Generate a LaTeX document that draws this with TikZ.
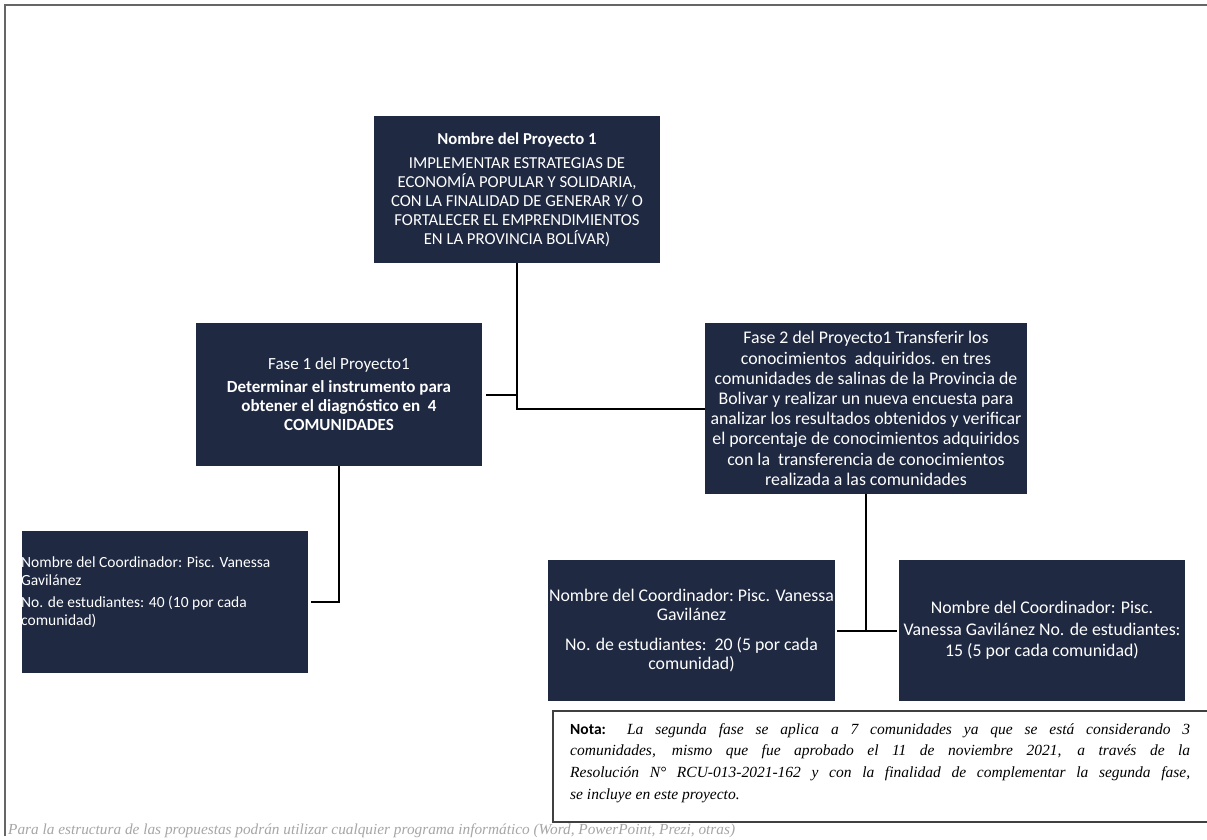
\documentclass[tikz,border=0pt]{standalone}
\usepackage{fontspec}
\setmainfont{Carlito}
\newfontfamily\notafont{Liberation Serif}
\definecolor{navy}{RGB}{31,41,66}
\begin{document}
\begin{tikzpicture}[x=1pt,y=-1pt,
  box/.style={fill=navy,draw=none,text=white,align=center,inner sep=0pt,
    font=\fontsize{16.7}{19}\selectfont},
  boxtxt/.style={text=white,inner sep=0pt,font=\fontsize{15.5}{17.5}\selectfont},
  conn/.style={draw=black,line width=2pt},
  frame/.style={draw=black!60,line width=1.5pt}]
\useasboundingbox (0,0) rectangle (1207,840);
\fill[white] (0,0) rectangle (1207,840);
% page frame
\draw[frame] (5,836) -- (5,5) -- (1207,5);

% project box
\node[box,minimum width=286pt,minimum height=147pt] (p) at (517,189.5)
 {{\bfseries Nombre del Proyecto 1}\\[5pt]
  IMPLEMENTAR ESTRATEGIAS DE\\
  ECONOMÍA POPULAR Y SOLIDARIA,\\
  CON LA FINALIDAD DE GENERAR Y/ O\\
  FORTALECER EL EMPRENDIMIENTOS\\
  EN LA PROVINCIA BOLÍVAR)};

% fase 1
\node[box,minimum width=286pt,minimum height=143pt,
  font=\fontsize{17}{19.3}\selectfont] (f1) at (339,394.5)
 {Fase 1 del Proyecto1\\[3pt]
  {\bfseries Determinar el instrumento para}\\
  {\bfseries obtener el diagnóstico en\ \ 4}\\
  {\bfseries COMUNIDADES}};

% fase 2
\node[box,minimum width=322pt,minimum height=171pt,
  font=\fontsize{17.8}{20.2}\selectfont] (f2) at (866,408.5)
 {Fase 2 del Proyecto1 Transferir los\\
  conocimientos\ \ adquiridos. en tres\\
  comunidades\ de salinas de la Provincia de\\
  Bolivar y realizar un nueva encuesta para\\
  analizar los resultados obtenidos y verificar\\
  el porcentaje de conocimientos\ adquiridos\\
  con la\ \ transferencia de conocimientos\\
  realizada\ a las comunidades};

% coordinator boxes
\node[box,minimum width=286pt,minimum height=142pt] (c1) at (165,602) {};
\node[boxtxt,anchor=north west,align=left] (c1t) at (21,557)
 {Nombre del Coordinador: Pisc. Vanessa\\
  Gavilánez\\[5pt]
  No. de estudiantes: 40 (10 por cada\\
  comunidad)};

\node[box,minimum width=287pt,minimum height=141pt,
  font=\fontsize{17.8}{19}\selectfont] (c2) at (691.5,630.5)
 {\makebox[0pt]{Nombre del Coordinador:\ Pisc. Vanessa}\\
  Gavilánez\\[11pt]
  No. de estudiantes:\ \ 20 (5 por cada\\
  comunidad)};

\node[box,minimum width=286pt,minimum height=141pt,
  font=\fontsize{17.8}{21.5}\selectfont] (c3) at (1042,630.5)
 {Nombre del Coordinador: Pisc.\\
  Vanessa Gavilánez\ No. de estudiantes:\\
  15 (5 por cada comunidad)};

% connectors
\draw[conn] (p.south) |- (f2.west);
\draw[conn] ([xshift=4pt]f1.east) -- (f1.east -| p.south);
\draw[conn] (f1.south) |- ([xshift=3pt]c1.east);
\draw[conn] (f2.south) -- (f2.south |- c2.east);
\draw[conn] ([xshift=2pt]c2.east) -- ([xshift=-2pt]c3.west);

% note box
\draw[frame,draw=black!75] (1207,711) -- (553,711) -- (553,822) -- (1207,822);
\node[anchor=north west,inner sep=0pt,text width=620pt,align=justify,
  font=\notafont\itshape\fontsize{15.5}{21.8}\selectfont] (nt) at (570,723)
 {{\normalfont\fontspec{Carlito}\bfseries Nota:} La segunda fase se aplica a 7 comunidades ya que se está considerando 3\linebreak
  comunidades, mismo que fue aprobado el 11 de noviembre 2021, a través de la\linebreak
  Resolución N° RCU-013-2021-162 y con la finalidad de complementar la segunda fase,\linebreak
  se incluye en este proyecto.};

% footer
\node[anchor=west,inner sep=0pt,text=black!35,
  font=\notafont\itshape\fontsize{15.3}{18}\selectfont] (ft) at (8,831)
 {Para la estructura de las propuestas podrán utilizar cualquier programa informático (Word, PowerPoint, Prezi, otras)};
\end{tikzpicture}
\end{document}
